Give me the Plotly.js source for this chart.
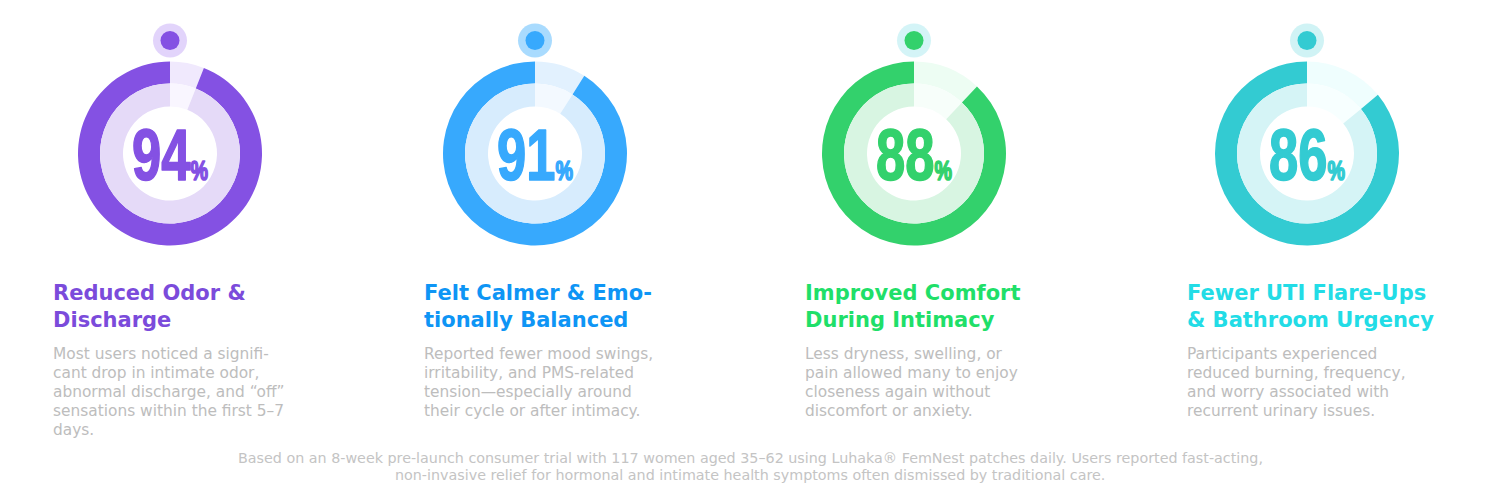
<!DOCTYPE html>
<html>
<head>
<meta charset="utf-8">
<script src="https://cdn.plot.ly/plotly-3.0.1.min.js"></script>
<style>
  html, body { margin: 0; padding: 0; background: #ffffff; }
  #chart { width: 1500px; height: 500px; }
</style>
</head>
<body>
<div id="chart"></div>
<script>
// ---------- DATA ----------
const titles = [
  ['Reduced Odor &amp;', 'Discharge'],
  ['Felt Calmer &amp; Emo-', 'tionally Balanced'],
  ['Improved Comfort', 'During Intimacy'],
  ['Fewer UTI Flare-Ups', '&amp; Bathroom Urgency']
];
const percents = [94, 91, 88, 86];
const descriptions = [
  ['Most users noticed a signifi-', 'cant drop in intimate odor,', 'abnormal discharge, and “off”', 'sensations within the first 5–7', 'days.'],
  ['Reported fewer mood swings,', 'irritability, and PMS-related', 'tension—especially around', 'their cycle or after intimacy.'],
  ['Less dryness, swelling, or', 'pain allowed many to enjoy', 'closeness again without', 'discomfort or anxiety.'],
  ['Participants experienced', 'reduced burning, frequency,', 'and worry associated with', 'recurrent urinary issues.']
];
const footnoteLines = [
  'Based on an 8-week pre-launch consumer trial with 117 women aged 35–62 using Luhaka® FemNest patches daily. Users reported fast-acting,',
  'non-invasive relief for hormonal and intimate health symptoms often dismissed by traditional care.'
];

// ---------- STYLE / LAYOUT CONFIG ----------
const W = 1500, H = 500;
const palette = [
  {dark:'#8451E3', ring:'#E5DAF8', gapOuter:'#F0E9FD', gapInner:'#F9F6FF', halo:'#E2D4FB', title:'#7B4BDB'},
  {dark:'#37A9FD', ring:'#D7ECFD', gapOuter:'#E2F1FE', gapInner:'#F3F9FF', halo:'#A9DBFE', title:'#0E95F5'},
  {dark:'#33D16C', ring:'#D8F5E2', gapOuter:'#EDFDF3', gapInner:'#F7FEFA', halo:'#D4F4F7', title:'#1FDF69'},
  {dark:'#33CBD2', ring:'#D5F4F6', gapOuter:'#EFFEFE', gapInner:'#F7FFFF', halo:'#D0F3F5', title:'#22DCE6'}
];
const donutCX = [170, 535, 914, 1307];
const donutCY = 153.5;
const rOuter = 92, rMid = 70, rInner = 47;
const dotCY = 40.5, haloR = 17, dotR = 9.5;
const textX = [51, 422, 803, 1185];
const titleLineY = [292.5, 320];
const bodyLineY0 = 354, bodyLineStep = 19;
const footLineY = [458, 475];
const percentTargetWidth = 76;

const px2x = v => v / W;
const px2y = v => 1 - v / H;

const traces = [];
const annotations = [];
const shapes = [];
const percentAnnIdx = [];

const textFont = 'DejaVu Sans, Open Sans, sans-serif';

percents.forEach((p, i) => {
  const c = palette[i];
  const cx = donutCX[i];
  const dom = r => ({
    x: [px2x(cx - r), px2x(cx + r)],
    y: [px2y(donutCY + r), px2y(donutCY - r)]
  });
  // remaining share first (starts at 12 o'clock going clockwise), then the achieved share
  traces.push({
    type: 'pie', values: [100 - p, p], sort: false, direction: 'clockwise', rotation: 0,
    hole: rMid / rOuter, domain: dom(rOuter), textinfo: 'none', hoverinfo: 'skip', showlegend: false,
    marker: {colors: [c.gapOuter, c.dark], line: {width: 0}}
  });
  traces.push({
    type: 'pie', values: [100 - p, p], sort: false, direction: 'clockwise', rotation: 0,
    hole: rInner / rMid, domain: dom(rMid), textinfo: 'none', hoverinfo: 'skip', showlegend: false,
    marker: {colors: [c.gapInner, c.ring], line: {width: 0}}
  });
  // decorative dot above each donut
  shapes.push({type:'circle', xref:'paper', yref:'paper', layer:'above',
    x0: px2x(cx - haloR), x1: px2x(cx + haloR), y0: px2y(dotCY + haloR), y1: px2y(dotCY - haloR),
    fillcolor: c.halo, line: {width: 0}});
  shapes.push({type:'circle', xref:'paper', yref:'paper', layer:'above',
    x0: px2x(cx - dotR), x1: px2x(cx + dotR), y0: px2y(dotCY + dotR), y1: px2y(dotCY - dotR),
    fillcolor: c.dark, line: {width: 0}});
  // percentage label
  percentAnnIdx.push(annotations.length);
  annotations.push({
    xref:'paper', yref:'paper', x: px2x(cx), y: px2y(donutCY + 2), xanchor:'center', yanchor:'middle',
    showarrow:false,
    text: p + '<span style="font-size:27px">%</span>',
    font: {family:'Liberation Sans Narrow, Arial Narrow, Liberation Sans, sans-serif', size: 72,
           color: c.dark, weight: 'bold', stretch: 'condensed'}
  });
  // title lines
  titles[i].forEach((line, k) => {
    annotations.push({
      xref:'paper', yref:'paper', x: px2x(textX[i]), y: px2y(titleLineY[k]), xanchor:'left', yanchor:'middle',
      align:'left', showarrow:false, text: line,
      font: {family: textFont, size: 21, color: c.title, weight: 'bold'}
    });
  });
  // description lines
  descriptions[i].forEach((line, k) => {
    annotations.push({
      xref:'paper', yref:'paper', x: px2x(textX[i]), y: px2y(bodyLineY0 + k * bodyLineStep),
      xanchor:'left', yanchor:'middle', align:'left', showarrow:false, text: line,
      font: {family: textFont, size: 15.4, color: '#BDBDBD'}
    });
  });
});

footnoteLines.forEach((line, k) => {
  annotations.push({
    xref:'paper', yref:'paper', x: 0.5, y: px2y(footLineY[k]), xanchor:'center', yanchor:'middle',
    align:'center', showarrow:false, text: line,
    font: {family: textFont, size: 14.3, color: '#C4C4C4'}
  });
});

const layout = {
  width: W, height: H,
  margin: {l:0, r:0, t:0, b:0, pad:0},
  paper_bgcolor: '#ffffff', plot_bgcolor: '#ffffff',
  showlegend: false,
  annotations: annotations,
  shapes: shapes
};

Plotly.newPlot('chart', traces, layout, {staticPlot: true, displayModeBar: false}).then(gd => {
  // condense and embolden the big percentage numbers to match the heavy narrow display face
  const groups = gd.querySelectorAll('.annotation');
  groups.forEach(g => {
    const idx = +g.getAttribute('data-index');
    const pos = percentAnnIdx.indexOf(idx);
    if (pos < 0) return;
    const t = g.querySelector('.annotation-text');
    if (!t) return;
    const w = t.getBBox().width;
    const s = Math.min(1, percentTargetWidth / w);
    t.style.transformBox = 'fill-box';
    t.style.transformOrigin = 'center';
    t.style.transform = 'scaleX(' + s + ')';
    t.style.stroke = palette[pos].dark;
    t.style.strokeWidth = '1.6px';
    t.style.strokeLinejoin = 'round';
  });
});
</script>
</body>
</html>
